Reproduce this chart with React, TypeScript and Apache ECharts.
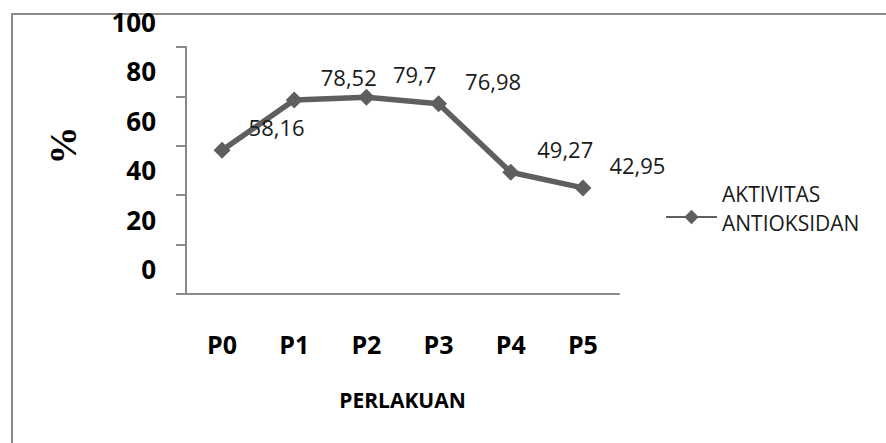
import React, { useEffect, useRef } from "react";
import * as echarts from "echarts";

const categories = ["P0", "P1", "P2", "P3", "P4", "P5"];
const activityValues = [58.16, 78.52, 79.7, 76.98, 49.27, 42.95];
const seriesName = "AKTIVITAS\nANTIOKSIDAN";
const yTicks = { min: 0, max: 100, interval: 20 };

export default function App() {
  const ref = useRef<HTMLDivElement>(null);
  useEffect(() => {
    if (!ref.current) return;
    const chart = echarts.init(ref.current, null, { renderer: "svg" });
    const font = "'Open Sans', sans-serif";
    const axisGray = "#8a8a8a";
    chart.setOption({
      animation: false,
      backgroundColor: "#ffffff",
      textStyle: { fontFamily: font },
      grid: [
        { left: 186, right: 267, top: 47, bottom: 149, containLabel: false, outerBoundsMode: "none" },
        // label-only grid: Excel drew the value labels half a step above their ticks
        { left: 186, right: 267, top: 22, bottom: 174, containLabel: false, outerBoundsMode: "none" },
      ],
      graphic: [
        {
          type: "rect",
          shape: { x: 12, y: 14, width: 900, height: 460 },
          style: { fill: "none", stroke: axisGray, lineWidth: 2 },
          silent: true,
          z: -1,
        },
      ],
      legend: {
        show: true,
        left: 660,
        top: 178,
        itemWidth: 51,
        itemHeight: 18,
        data: [seriesName],
        formatter: (name: string) =>
          name
            .split("\n")
            .map((s) => "{a|" + s + "}")
            .join("\n") + "\n{b| }",
        textStyle: {
          fontFamily: font,
          fontSize: 21,
          color: "#1a1a1a",
          rich: {
            a: { fontFamily: font, fontSize: 21, lineHeight: 29, color: "#1a1a1a" },
            b: { fontSize: 10, lineHeight: 18 },
          },
        },
      },
      xAxis: [
        {
          type: "category",
          gridIndex: 0,
          data: categories,
          boundaryGap: true,
          axisLine: { show: true, lineStyle: { color: axisGray, width: 2 } },
          axisTick: { show: false },
          axisLabel: {
            margin: 37,
            fontSize: 25,
            fontWeight: "bold",
            color: "#000",
            fontFamily: font,
          },
          name: "PERLAKUAN",
          nameLocation: "middle",
          nameGap: 95,
          nameTextStyle: { fontSize: 21, fontWeight: "bold", color: "#000", fontFamily: font },
          splitLine: { show: false },
        },
        {
          type: "category",
          gridIndex: 1,
          data: categories,
          show: false,
        },
      ],
      yAxis: [
        {
          type: "value",
          gridIndex: 0,
          min: yTicks.min,
          max: yTicks.max,
          interval: yTicks.interval,
          axisLine: { show: true, lineStyle: { color: axisGray, width: 2 } },
          axisTick: { show: true, length: 10, lineStyle: { color: axisGray, width: 2 } },
          splitLine: { show: false },
          axisLabel: { show: false },
          name: "%",
          nameLocation: "middle",
          nameGap: 104,
          nameTextStyle: {
            fontSize: 38,
            fontWeight: "bold",
            color: "#000",
            fontFamily: "Liberation Serif, Times New Roman, serif",
            padding: [0, 0, 0, 50],
          },
        },
        {
          type: "value",
          gridIndex: 1,
          min: yTicks.min,
          max: yTicks.max,
          interval: yTicks.interval,
          axisLine: { show: false },
          axisTick: { show: false },
          splitLine: { show: false },
          axisLabel: {
            margin: 30,
            fontSize: 26,
            fontWeight: "bold",
            color: "#000",
            fontFamily: font,
            showMinLabel: true,
            showMaxLabel: true,
          },
        },
      ],
      series: [
        {
          name: seriesName,
          type: "line",
          xAxisIndex: 0,
          yAxisIndex: 0,
          data: activityValues,
          color: "#5f5f5f",
          lineStyle: { color: "#5f5f5f", width: 5.5 },
          itemStyle: { color: "#5f5f5f" },
          symbol: "diamond",
          symbolSize: 17,
          label: {
            show: true,
            position: "right",
            distance: 18,
            offset: [0, -23],
            fontSize: 22,
            color: "#1a1a1a",
            fontFamily: font,
            formatter: (p: any) => String(p.value).replace(".", ","),
          },
        },
      ],
    });
    return () => chart.dispose();
  }, []);
  return (
    <div
      ref={ref}
      style={{ position: "absolute", left: 0, top: 0, width: 886, height: 443 }}
    />
  );
}
